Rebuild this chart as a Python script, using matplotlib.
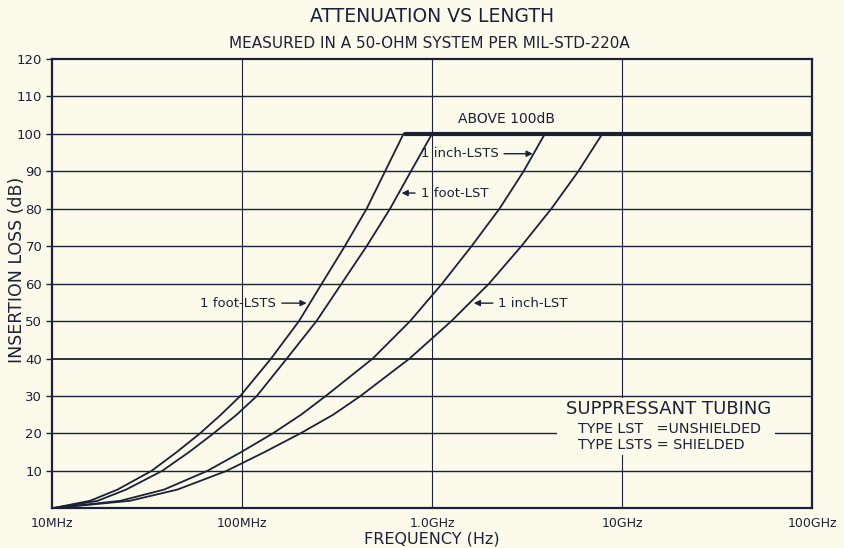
import matplotlib
matplotlib.use("Agg")
import matplotlib.pyplot as plt
import numpy as np

# ---- data (insertion loss in dB vs frequency in Hz) ----
db_levels = [0, 2, 5, 10, 15, 20, 25, 30, 40, 50, 60, 70, 80, 90, 100]

# log10(frequency) at each dB level
foot_lsts_logf = [7.0, 7.20, 7.345, 7.524, 7.656, 7.779, 7.889, 7.991, 8.153, 8.300, 8.42, 8.541, 8.656, 8.753, 8.850]
foot_lst_logf  = [7.0, 7.24, 7.390, 7.580, 7.721, 7.850, 7.972, 8.078, 8.236, 8.392, 8.524, 8.656, 8.779, 8.889, 9.000]
inch_lsts_logf = [7.0, 7.36, 7.590, 7.818, 7.995, 8.162, 8.311, 8.441, 8.688, 8.885, 9.053, 9.208, 9.355, 9.482, 9.594]
inch_lst_logf  = [7.0, 7.41, 7.660, 7.919, 8.118, 8.307, 8.480, 8.624, 8.882, 9.102, 9.300, 9.470, 9.628, 9.770, 9.896]

xtick_vals = [1e7, 1e8, 1e9, 1e10, 1e11]
xtick_labels = ["10MHz", "100MHz", "1.0GHz", "10GHz", "100GHz"]
ytick_vals = [10, 20, 30, 40, 50, 60, 70, 80, 90, 100, 110, 120]

INK = "#1b2136"
BG = "#fcfaeb"

plt.rcParams['font.family'] = ['DejaVu Sans']

W, H = 844, 548
fig = plt.figure(figsize=(W / 100, H / 100), dpi=100, facecolor=BG)
ax = fig.add_axes([52 / W, 1 - 508.3 / H, (812 - 52) / W, (508.3 - 59) / H])
ax.set_facecolor(BG)
ax.set_xscale("log")
ax.set_xlim(1e7, 1e11)
ax.set_ylim(0, 120)

# grid
for y in ytick_vals[:-1]:
    ax.axhline(y, color=INK, lw=1.3 if y == 40 else 1.0, zorder=1)
for x in xtick_vals[1:-1]:
    ax.axvline(x, color=INK, lw=0.8, zorder=1)

curves = [foot_lsts_logf, foot_lst_logf, inch_lsts_logf, inch_lst_logf]
for lf in curves:
    ax.plot(10 ** np.array(lf), db_levels, color=INK, lw=1.3, zorder=3,
            solid_joinstyle="round")

# thick "above 100 dB" line
ax.plot([10 ** foot_lsts_logf[-1], 1e11], [100, 100], color=INK, lw=3.0,
        solid_capstyle="butt", zorder=4)

for s in ax.spines.values():
    s.set_color(INK)
    s.set_linewidth(1.6)

ax.set_xticks(xtick_vals)
ax.set_xticklabels(xtick_labels)
ax.xaxis.set_minor_locator(matplotlib.ticker.NullLocator())
ax.set_yticks(ytick_vals)
ax.set_yticklabels([str(v) for v in ytick_vals])
ax.tick_params(axis="x", length=0, pad=6, labelsize=9, colors=INK)
ax.tick_params(axis="y", length=4, width=1.0, pad=3, labelsize=9.5, colors=INK)

fig.text(432 / W, 1 - 539 / H, "FREQUENCY (Hz)", ha="center", va="center",
         fontsize=11.5, color=INK)
fig.text(17 / W, 1 - 270 / H, "INSERTION LOSS (dB)", ha="center", va="center",
         rotation=90, fontsize=12.5, color=INK)

fig.text(432 / W, 1 - 17 / H, "ATTENUATION VS LENGTH", ha="center", va="center",
         fontsize=13.5, color=INK)
fig.text(429 / W, 1 - 43 / H, "MEASURED IN A 50-OHM SYSTEM PER MIL-STD-220A",
         ha="center", va="center", fontsize=11, color=INK)

# annotations
ax.text(10 ** 9.39, 104, "ABOVE 100dB", ha="center", va="center", fontsize=10, color=INK)

arrow = dict(arrowstyle="-|>", color=INK, lw=1.0, mutation_scale=9, shrinkA=2, shrinkB=0)
ax.annotate("1 inch-LSTS", xy=(10 ** 9.53, 94.7), xytext=(10 ** 9.35, 94.7),
            ha="right", va="center", fontsize=9.5, color=INK, arrowprops=arrow)
ax.annotate("1 foot-LST", xy=(10 ** 8.84, 84.2), xytext=(10 ** 8.94, 84.2),
            ha="left", va="center", fontsize=9.5, color=INK, arrowprops=arrow)
ax.annotate("1 foot-LSTS", xy=(10 ** 8.34, 54.8), xytext=(10 ** 8.18, 54.8),
            ha="right", va="center", fontsize=9.5, color=INK, arrowprops=arrow)
ax.annotate("1 inch-LST", xy=(10 ** 9.22, 54.8), xytext=(10 ** 9.35, 54.8),
            ha="left", va="center", fontsize=9.5, color=INK, arrowprops=arrow)

# legend-like text block
fig.patches.append(matplotlib.patches.Rectangle((557 / W, 1 - 455 / H), 218 / W, 57 / H,
                   transform=fig.transFigure, facecolor=BG, edgecolor="none", zorder=5))
fig.text(669 / W, 1 - 409 / H, "SUPPRESSANT TUBING", ha="center", va="center",
         fontsize=13, color=INK, zorder=6)
fig.text(578 / W, 1 - 429 / H, "TYPE LST   =UNSHIELDED", ha="left", va="center",
         fontsize=10.3, color=INK, zorder=6)
fig.text(578 / W, 1 - 445 / H, "TYPE LSTS = SHIELDED", ha="left", va="center",
         fontsize=10.3, color=INK, zorder=6)

fig.savefig("out.png", dpi=100, facecolor=BG)
